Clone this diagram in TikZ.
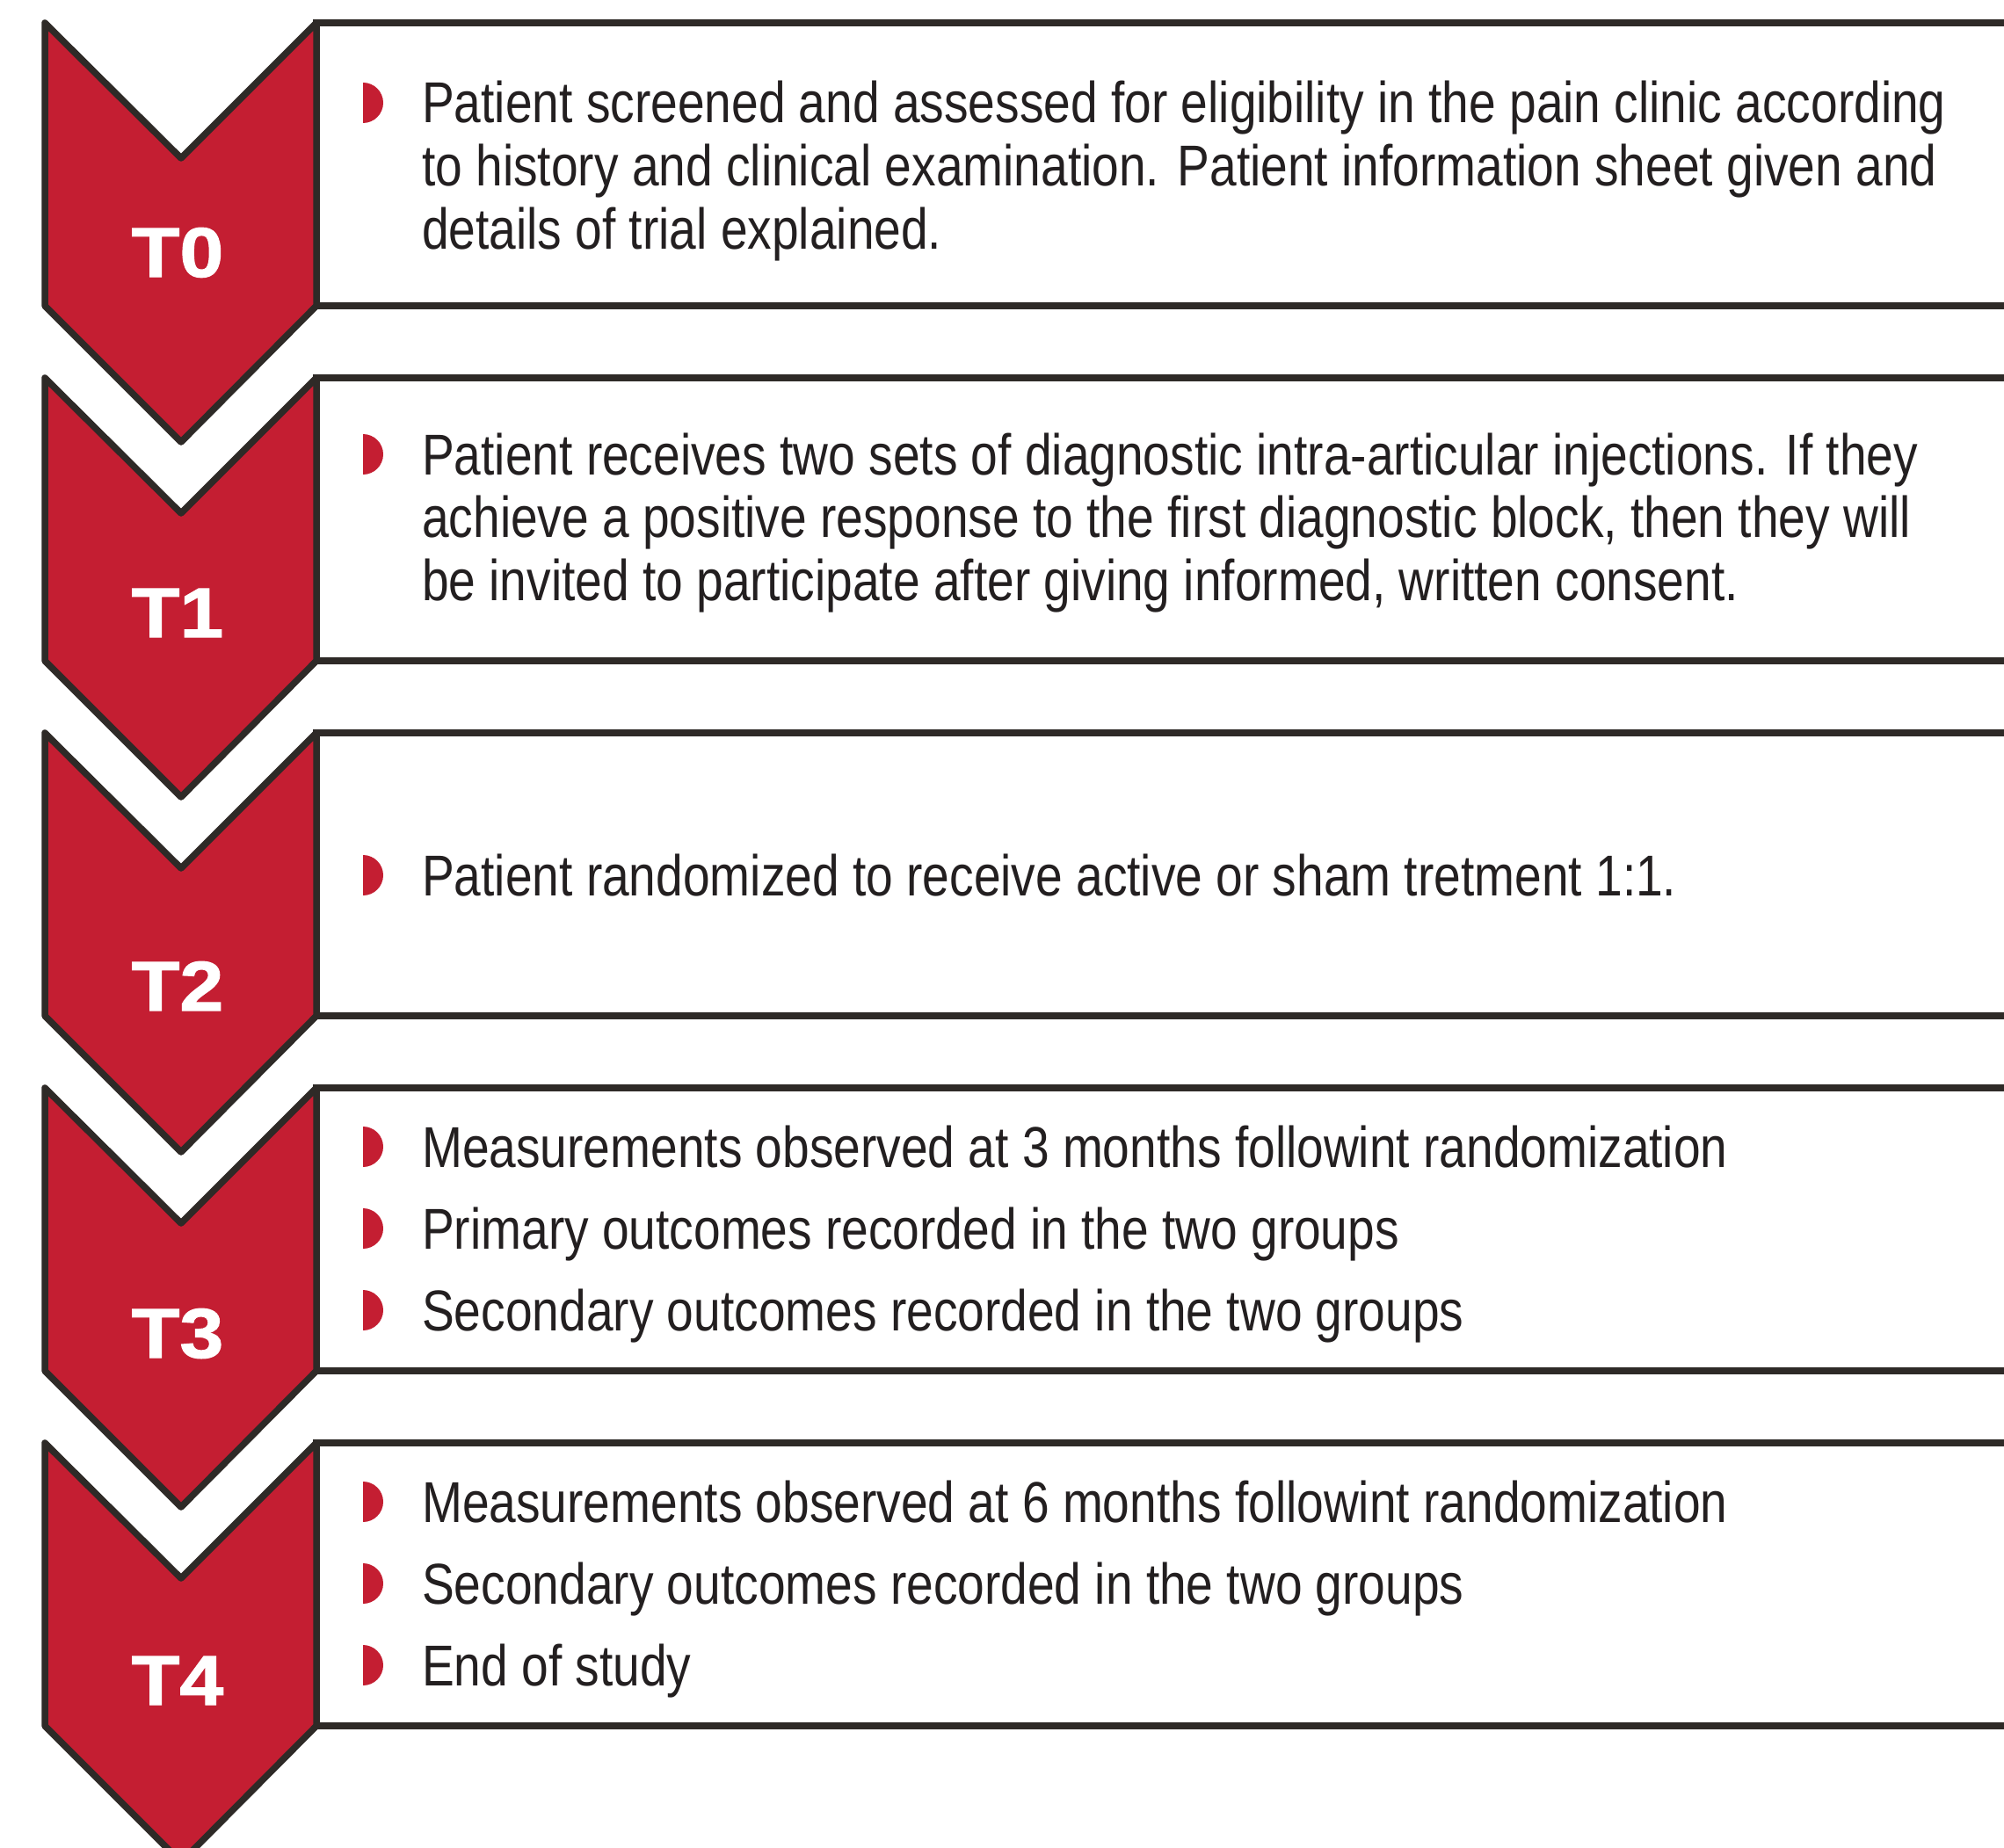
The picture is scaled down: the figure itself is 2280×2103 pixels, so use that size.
\documentclass[tikz,border=0pt]{standalone}
\usepackage{fontspec}
\newfontfamily\stepfont{Liberation Sans}[FakeStretch=0.84]
\newfontfamily\tagfont{Liberation Sans Bold}[FakeStretch=1.12,FakeBold=1.5]

\definecolor{chevred}{HTML}{C41E32}
\definecolor{edge}{HTML}{2E2A27}
\definecolor{ink}{HTML}{231F20}

\tikzset{
	chev/.style={fill=chevred, draw=edge, line width=7.5pt, line join=round},
	rowbox/.style={fill=white, draw=edge, line width=7.5pt},
	tag/.style={text=white, font=\tagfont\fontsize{80}{80}\selectfont, inner sep=0pt, anchor=base},
	txt/.style={text=ink, font=\stepfont\fontsize{65.6}{71.5}\selectfont, inner sep=0pt, anchor=base west},
}

% red half disc standing on the baseline of a line
\newcommand{\halfdot}[1]{\fill[chevred] (413,#1) arc[start angle=90, end angle=-90, radius=23] -- cycle;}

\begin{document}
\begin{tikzpicture}[x=1pt, y=-1pt]

	\useasboundingbox (0,0) rectangle (2280,2103);
	\clip (0,0) rectangle (2280,2103);

	% boxes and chevrons
	\foreach \k in {0,...,4}{
		\pgfmathsetmacro\rowy{26+404*\k}
		\draw[rowbox] (360,\rowy) rectangle (2300,\rowy+322);
		\draw[chev] (51,\rowy) -- (206,\rowy+154) -- (360,\rowy) -- (360,\rowy+322)
			-- (206,\rowy+477) -- (51,\rowy+322) -- cycle;
	}

	\node[tag] (t0) at (202,315) {T0};
	\node[tag] (t1) at (202,725) {T1};
	\node[tag] (t2) at (202,1150) {T2};
	\node[tag] (t3) at (202,1545) {T3};
	\node[tag] (t4) at (202,1940) {T4};

	% T0
	\halfdot{140}
	\node[txt] (s0a) at (480,140) {Patient screened and assessed for eligibility in the pain clinic according};
	\node[txt] (s0b) at (480,211.5) {to history and clinical examination. Patient information sheet given and};
	\node[txt] (s0c) at (480,283) {details of trial explained.};

	% T1
	\halfdot{540}
	\node[txt] (s1a) at (480,540) {Patient receives two sets of diagnostic intra-articular injections. If they};
	\node[txt] (s1b) at (480,611.5) {achieve a positive response to the first diagnostic block, then they will};
	\node[txt] (s1c) at (480,683) {be invited to participate after giving informed, written consent.};

	% T2
	\halfdot{1019}
	\node[txt] (s2a) at (480,1019) {Patient randomized to receive active or sham tretment 1:1.};

	% T3
	\halfdot{1328}
	\node[txt] (s3a) at (480,1328) {Measurements observed at 3 months followint randomization};
	\halfdot{1421}
	\node[txt] (s3b) at (480,1421) {Primary outcomes recorded in the two groups};
	\halfdot{1514}
	\node[txt] (s3c) at (480,1514) {Secondary outcomes recorded in the two groups};

	% T4
	\halfdot{1732}
	\node[txt] (s4a) at (480,1732) {Measurements observed at 6 months followint randomization};
	\halfdot{1825}
	\node[txt] (s4b) at (480,1825) {Secondary outcomes recorded in the two groups};
	\halfdot{1918}
	\node[txt] (s4c) at (480,1918) {End of study};

\end{tikzpicture}
\end{document}
